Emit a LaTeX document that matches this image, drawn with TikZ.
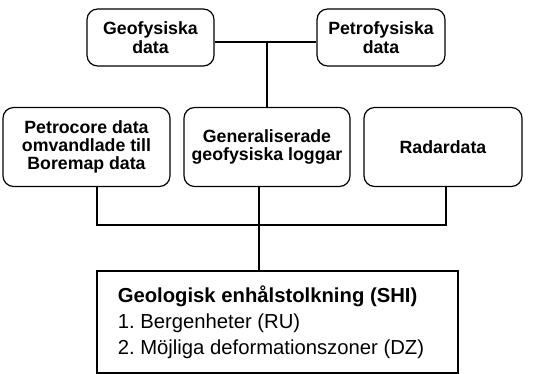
\documentclass[tikz,border=0pt]{standalone}
\usepackage{fontspec}
\setmainfont{Liberation Sans}
\frenchspacing
\begin{document}
\begin{tikzpicture}[x=0.75pt,y=-0.75pt,
  databox/.style={draw=black,line width=0.9pt,rounded corners=8pt,fill=white,
    inner sep=0pt,align=center,font=\fontsize{13.3}{13.8}\selectfont\bfseries},
  resultbox/.style={draw=black,line width=1.2pt,fill=white,inner sep=0pt},
  conn/.style={draw=black,line width=2.2pt,line join=miter}]
\useasboundingbox (0,0) rectangle (546,374);
% top row
\node[databox,minimum width=95.25pt,minimum height=42.75pt] (geo) at (150.5,37.5) {Geofysiska\\data};
\node[databox,minimum width=96pt,minimum height=42.75pt] (petro) at (381,37.5) {Petrofysiska\\data};
% second row
\node[databox,minimum width=125.25pt,minimum height=59.25pt] (pc) at (86.5,147) {Petrocore data\\omvandlade till\\Boremap data};
\node[databox,minimum width=124.5pt,minimum height=59.25pt] (gen) at (267,147) {Generaliserade\\geofysiska loggar};
\node[databox,minimum width=118.5pt,minimum height=59.25pt] (radar) at (443,147) {Radardata};
% result box
\node[resultbox,minimum width=270.75pt,minimum height=76.5pt] (shi) at (277.5,322) {};
\node[anchor=west,inner sep=0pt,align=left,font=\fontsize{15.2}{19.4}\selectfont] (shitext) at (117.5,322.5)
  {\textbf{Geologisk enhålstolkning (SHI)}\\1. Bergenheter (RU)\\2. Möjliga deformationszoner (DZ)};
% junctions
\coordinate (j1) at (267,42);
\coordinate (a1) at (97,225);
\coordinate (j2) at (259,225);
\coordinate (a3) at (446,225);
% connectors
\draw[conn] (geo.east |- j1) -- (petro.west |- j1);
\draw[conn] (j1) -- (gen.north);
\draw[conn] (pc.south -| a1) -- (a1) -- (a3) -- (radar.south -| a3);
\draw[conn] (gen.south -| j2) -- (j2);
\draw[conn] (j2) -- (shi.north -| j2);
\end{tikzpicture}
\end{document}
